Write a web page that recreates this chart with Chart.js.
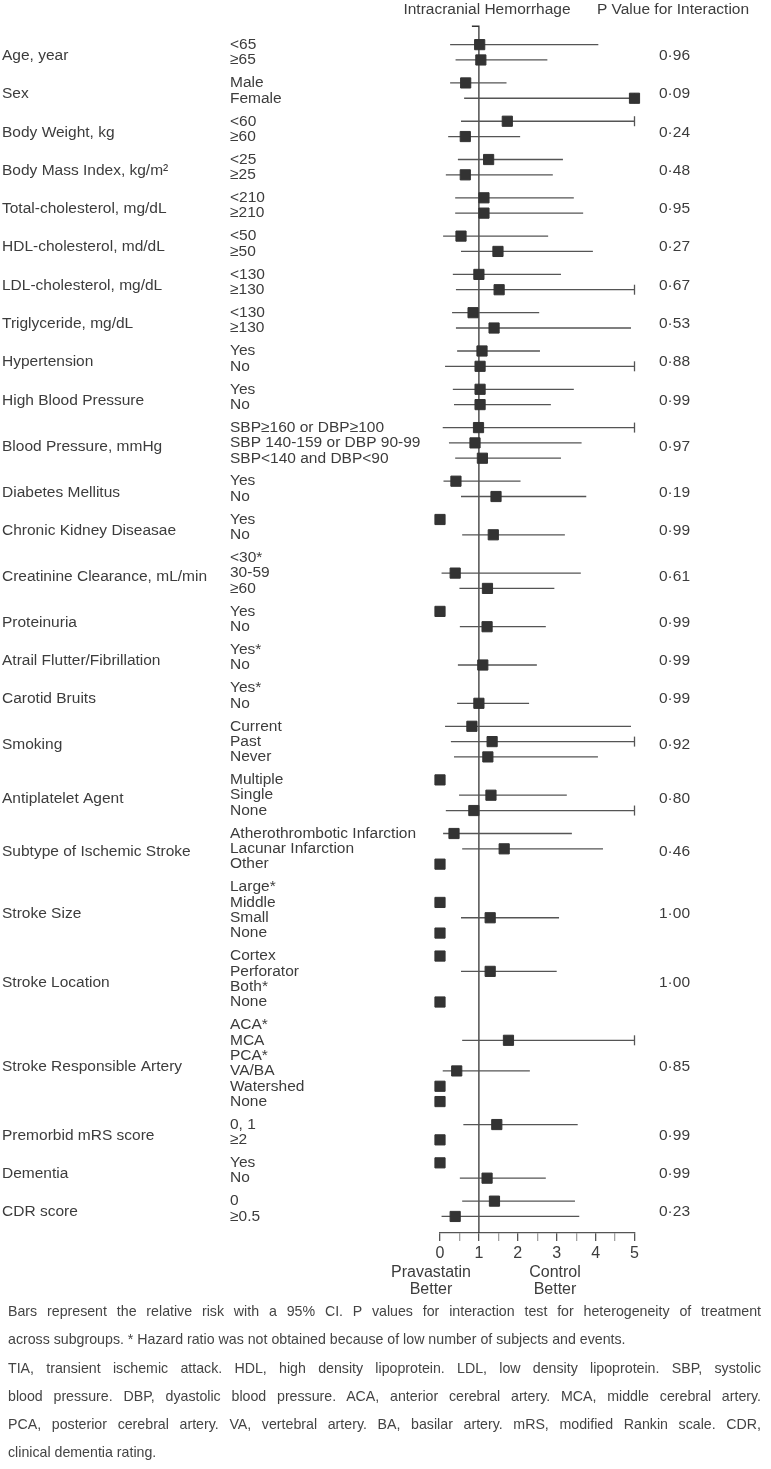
<!DOCTYPE html>
<html>
<head>
<meta charset="utf-8">
<script src="https://cdn.jsdelivr.net/npm/chart.js@4.4.1/dist/chart.umd.min.js"></script>
<style>
  body { margin: 0; background: #fff; }
  #wrap { position: relative; width: 771px; height: 1469px; }
  #notes { position: absolute; left: 8px; top: 1297px; width: 753px;
           font-family: "Liberation Sans", Arial, sans-serif; font-size: 14.2px;
           line-height: 28.3px; color: #444; }
  #notes .j { text-align: justify; text-align-last: justify; }
</style>
</head>
<body>
<div id="wrap">
  <canvas id="mycanvas" width="771" height="1469"></canvas>
  <div id="notes">
    <div class="j">Bars represent the relative risk with a 95% CI. P values for interaction test for heterogeneity of treatment</div>
    <div>across subgroups. * Hazard ratio was not obtained because of low number of subjects and events.</div>
    <div class="j">TIA, transient ischemic attack. HDL, high density lipoprotein. LDL, low density lipoprotein. SBP, systolic</div>
    <div class="j">blood pressure. DBP, dyastolic blood pressure. ACA, anterior cerebral artery. MCA, middle cerebral artery.</div>
    <div class="j">PCA, posterior cerebral artery. VA, vertebral artery. BA, basilar artery. mRS, modified Rankin scale. CDR,</div>
    <div>clinical dementia rating.</div>
  </div>
</div>
<script>
// subgroup names and their sub-rows
var groupNames = ['Age, year', 'Sex', 'Body Weight, kg', 'Body Mass Index, kg/m²',
  'Total-cholesterol, mg/dL', 'HDL-cholesterol, md/dL', 'LDL-cholesterol, mg/dL',
  'Triglyceride, mg/dL', 'Hypertension', 'High Blood Pressure', 'Blood Pressure, mmHg',
  'Diabetes Mellitus', 'Chronic Kidney Diseasae', 'Creatinine Clearance, mL/min',
  'Proteinuria', 'Atrail Flutter/Fibrillation', 'Carotid Bruits', 'Smoking',
  'Antiplatelet Agent', 'Subtype of Ischemic Stroke', 'Stroke Size', 'Stroke Location',
  'Stroke Responsible Artery', 'Premorbid mRS score', 'Dementia', 'CDR score'];

var subLabels = [
  ['<65', '≥65'], ['Male', 'Female'], ['<60', '≥60'], ['<25', '≥25'],
  ['<210', '≥210'], ['<50', '≥50'], ['<130', '≥130'], ['<130', '≥130'],
  ['Yes', 'No'], ['Yes', 'No'],
  ['SBP≥160 or DBP≥100', 'SBP 140-159 or DBP 90-99', 'SBP<140 and DBP<90'],
  ['Yes', 'No'], ['Yes', 'No'], ['<30*', '30-59', '≥60'], ['Yes', 'No'],
  ['Yes*', 'No'], ['Yes*', 'No'], ['Current', 'Past', 'Never'],
  ['Multiple', 'Single', 'None'],
  ['Atherothrombotic Infarction', 'Lacunar Infarction', 'Other'],
  ['Large*', 'Middle', 'Small', 'None'], ['Cortex', 'Perforator', 'Both*', 'None'],
  ['ACA*', 'MCA', 'PCA*', 'VA/BA', 'Watershed', 'None'],
  ['0, 1', '≥2'], ['Yes', 'No'], ['0', '≥0.5']];

var pValues = ['0·96', '0·09', '0·24', '0·48', '0·95', '0·27', '0·67', '0·53', '0·88',
  '0·99', '0·97', '0·19', '0·99', '0·61', '0·99', '0·99', '0·99', '0·92', '0·80',
  '0·46', '1·00', '1·00', '0·85', '0·99', '0·99', '0·23'];

// relative risk and 95% CI, one entry per sub-row (null = not obtained)
var hr = [1.02, 1.05, 0.66, 5.0, 1.73, 0.65, 1.25, 0.65, 1.13, 1.13, 0.54, 1.49,
  1.0, 1.52, 0.85, 1.39, 1.08, 1.03, 1.03, 1.03, 0.99, 0.90, 1.09, 0.41, 1.44,
  0, 1.37, null, 0.39, 1.22, 0, 1.21, null, 1.10, null, 1.0, 0.82, 1.34, 1.23,
  0, 1.31, 0.87, 0.36, 1.65, 0, null, 0, 1.29, 0, 0, 1.29, null, 0,
  null, 1.76, null, 0.43, 0, 0, 1.46, 0, 0, 1.21, 1.40, 0.39];
var lo = [0.26, 0.40, 0.26, 0.62, 0.54, 0.21, 0.46, 0.15, 0.39, 0.39, 0.08, 0.54,
  0.33, 0.41, 0.31, 0.41, 0.44, 0.13, 0.33, 0.36, 0.07, 0.23, 0.39, 0.09, 0.54,
  null, 0.57, null, 0.04, 0.50, null, 0.51, null, 0.46, null, 0.44, 0.13, 0.28, 0.36,
  null, 0.49, 0.15, 0.08, 0.57, null, null, null, 0.54, null, null, 0.54, null, null,
  null, 0.57, null, 0.07, null, null, 0.60, null, null, 0.51, 0.57, 0.04];
var hi = [4.07, 2.76, 1.71, 5, 5, 2.06, 3.16, 2.9, 3.44, 3.68, 2.78, 3.93,
  3.11, 5, 2.55, 4.91, 2.57, 5, 3.44, 2.85, 5, 3.64, 3.11, 2.07, 3.76,
  null, 3.21, null, 3.62, 2.94, null, 2.72, null, 2.49, null, 2.29, 4.91, 5, 4.06,
  null, 3.26, 5, 3.39, 4.19, null, null, null, 3.06, null, null, 3.0, null, null,
  null, 5, null, 2.31, null, null, 3.54, null, null, 2.72, 3.47, 3.58];

var xTicks = [0, 0.5, 1, 1.5, 2, 2.5, 3, 3.5, 4, 4.5, 5];

// row positions: 1 unit per row, extra half unit between groups
var rowY = [], groupY = [];
var yy = 0;
subLabels.forEach(function(list) {
  var start = yy;
  list.forEach(function() { rowY.push(yy); yy += 1; });
  groupY.push((start + yy - 1) / 2 + 0.22);
  yy += 0.5;
});
var lastRow = rowY[rowY.length - 1];
var yTop = -2, yBottom = lastRow + 1.08;

var squares = [], ciLines = [], caps = [];
rowY.forEach(function(y, i) {
  if (hr[i] !== null) squares.push({x: hr[i], y: y});
  if (lo[i] !== null) {
    ciLines.push({x: lo[i], y: y}, {x: hi[i], y: y}, {x: null, y: null});
    if (hi[i] >= 5) caps.push({x: hi[i], y: y});
  }
});

var FONT = '"Liberation Sans", Arial, sans-serif';

var textPlugin = {
  id: 'forestText',
  afterDraw: function(chart) {
    var ctx = chart.ctx, ys = chart.scales.y, xs = chart.scales.x;
    ctx.save();
    ctx.fillStyle = '#3c3c3c';
    ctx.font = '15.5px ' + FONT;
    ctx.textBaseline = 'middle';
    ctx.textAlign = 'left';
    var k = 0;
    subLabels.forEach(function(list, g) {
      ctx.fillText(groupNames[g], 2, ys.getPixelForValue(groupY[g]));
      ctx.fillText(pValues[g], 659, ys.getPixelForValue(groupY[g]));
      list.forEach(function(s) {
        ctx.fillText(s, 230, ys.getPixelForValue(rowY[k]));
        k++;
      });
    });
    ctx.textAlign = 'center';
    ctx.fillText('Intracranial Hemorrhage', 487, 10);
    ctx.fillText('P Value for Interaction', 673, 10);
    ctx.font = '16px ' + FONT;
    ctx.fillText('Pravastatin', 431, 1273);
    ctx.fillText('Better', 431, 1290);
    ctx.fillText('Control', 555, 1273);
    ctx.fillText('Better', 555, 1290);
    ctx.restore();
  }
};

var ctx = document.getElementById('mycanvas');
var mycanvas = new Chart(ctx, {
  type: 'scatter',
  data: {
    datasets: [{
      label: 'RR',
      data: squares,
      pointStyle: 'rect',
      pointRadius: 7.2,
      backgroundColor: '#333',
      borderColor: '#333',
      borderWidth: 1,
      clip: false,
      order: 0
    }, {
      label: 'CI',
      data: ciLines,
      showLine: true,
      spanGaps: false,
      pointRadius: 0,
      borderColor: '#555',
      borderWidth: 1.3,
      clip: false,
      order: 1
    }, {
      label: 'caps',
      data: caps,
      pointStyle: 'line',
      rotation: 90,
      pointRadius: 5,
      borderColor: '#555',
      borderWidth: 1.3,
      clip: false,
      order: 1
    }, {
      label: 'ref',
      data: [{x: 0.82, y: -1.2}, {x: 1, y: -1.2}, {x: 1, y: yBottom}],
      showLine: true,
      pointRadius: 0,
      borderColor: '#333',
      borderWidth: 1.3,
      clip: false,
      order: 2
    }]
  },
  options: {
    responsive: false,
    animation: false,
    events: [],
    layout: { padding: { left: 440, right: 136.5, top: 14, bottom: 196 } },
    plugins: { legend: { display: false }, tooltip: { enabled: false } },
    scales: {
      x: {
        type: 'linear',
        min: 0, max: 5,
        afterFit: function(scale) { scale.height = 40; },
        afterBuildTicks: function(scale) {
          scale.ticks = xTicks.map(function(v) { return {value: v}; });
        },
        ticks: {
          color: '#3c3c3c', font: { family: FONT, size: 16 }, padding: 3,
          autoSkip: false, maxRotation: 0,
          callback: function(v) { return Number.isInteger(v) ? v : ''; }
        },
        grid: {
          drawOnChartArea: false, tickLength: 8, lineWidth: 1.3,
          tickColor: function(c) {
            return c.tick && !Number.isInteger(c.tick.value) ? 'rgba(85,85,85,0.55)' : '#555';
          }
        },
        border: { color: '#555', width: 1.3 }
      },
      y: {
        type: 'linear',
        display: false,
        reverse: true,
        min: yTop, max: yBottom
      }
    }
  },
  plugins: [textPlugin]
});
</script>
</body>
</html>
